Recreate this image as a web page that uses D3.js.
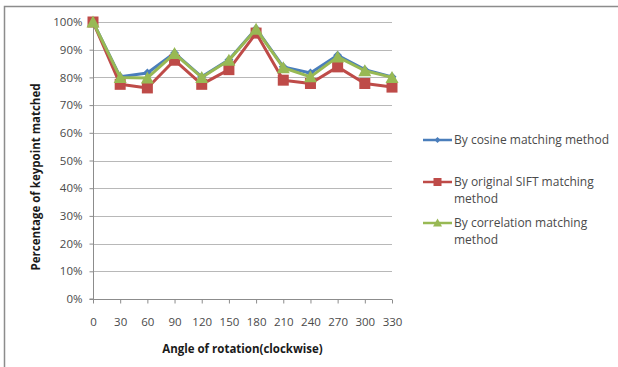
<!DOCTYPE html>
<html><head><meta charset="utf-8">
<script src="https://cdn.jsdelivr.net/npm/d3@7"></script>
<style>body{margin:0;background:#fff}svg{display:block}</style>
</head><body>
<svg id="c" width="618" height="367"></svg>
<script>
const angles = [0,30,60,90,120,150,180,210,240,270,300,330];
const cosineVals = [100,80.2,81.6,88.8,80.2,86.4,97.6,83.8,81.6,88.0,82.8,80.2];
const siftVals = [100,77.5,76.2,86.2,77.5,82.8,96.0,79.0,77.8,83.8,77.8,76.5];
const corrVals = [100,80.0,79.8,88.6,80.0,86.2,97.4,83.5,80.2,87.4,82.4,80.0];
const yTicks = [0,10,20,30,40,50,60,70,80,90,100];
const seriesNames = ["By cosine matching method","By original SIFT matching method","By correlation matching method"];
const seriesColors = ["#4A7EBB","#BE4B48","#98B954"];
const xTitle = "Angle of rotation(clockwise)";
const yTitle = "Percentage of keypoint matched";

const svg = d3.select("#c");
const font = "'Open Sans', sans-serif";
// chart border (top & left visible)
svg.append("path").attr("d","M4.5,367 V6.5 H618").attr("fill","none").attr("stroke","#8c8c8c").attr("stroke-width",1.5);

const L=93, R=392, T=22, B=299;
const x = d3.scalePoint().domain(angles).range([L,R]);
const y = d3.scaleLinear().domain([0,100]).range([B,T]);

// gridlines
svg.append("g").selectAll("line").data(yTicks.filter(d=>d>0)).join("line")
  .attr("x1",L).attr("x2",R).attr("y1",d=>Math.round(y(d))+0.5).attr("y2",d=>Math.round(y(d))+0.5)
  .attr("stroke","#b8b8b8").attr("stroke-width",1);

// y axis
const ya = svg.append("g").attr("transform",`translate(${L+0.5},0)`)
  .call(d3.axisLeft(y).tickValues(yTicks).tickFormat(d=>d+"%").tickSize(4).tickPadding(7));
ya.select(".domain").attr("stroke","#8c8c8c").attr("d",`M-4,${B}H0V${T}`);
ya.selectAll(".tick line").attr("stroke","#8c8c8c");
ya.selectAll(".tick text").attr("font-family",font).attr("font-size",11.5).attr("fill","#4a4a4a");

// x axis
const xa = svg.append("g").attr("transform",`translate(0,${B+0.5})`)
  .call(d3.axisBottom(x).tickSize(4).tickPadding(14));
xa.select(".domain").attr("stroke","#8c8c8c").attr("d",`M${L},0H${R}`);
xa.selectAll(".tick line").attr("stroke","#8c8c8c");
xa.selectAll(".tick text").attr("font-family",font).attr("font-size",11.5).attr("fill","#4a4a4a");

// titles
svg.append("text").attr("x",(L+R)/2).attr("y",353).attr("text-anchor","middle")
  .attr("font-family",font).attr("font-size",11.5).attr("font-weight","bold").attr("fill","#1a1a1a").text(xTitle);
svg.append("text").attr("transform","translate(40,177) rotate(-90)").attr("text-anchor","middle")
  .attr("font-family",font).attr("font-size",11.5).attr("font-weight","bold").attr("fill","#1a1a1a").text(yTitle);

const data = [cosineVals, siftVals, corrVals];
const line = d3.line().x((d,i)=>x(angles[i])).y(d=>y(d));
const markers = [
  g=>g.append("path").attr("d","M0,-4.5L4.5,0L0,4.5L-4.5,0Z"),
  g=>g.append("rect").attr("x",-5.5).attr("y",-5.5).attr("width",11).attr("height",11),
  g=>g.append("path").attr("d","M0,-6.5L6.5,5.5L-6.5,5.5Z")
];
data.forEach((vals,si)=>{
  svg.append("path").datum(vals).attr("d",line).attr("fill","none")
    .attr("stroke",seriesColors[si]).attr("stroke-width",3).attr("stroke-linejoin","round");
  vals.forEach((v,i)=>{
    const g = svg.append("g").attr("transform",`translate(${x(angles[i])},${y(v)})`).attr("fill",seriesColors[si]);
    markers[si](g);
  });
});

// legend
const legY = [140,182,223];
const legLines = [["By cosine matching method"],["By original SIFT matching","method"],["By correlation matching","method"]];
legY.forEach((ly,si)=>{
  svg.append("line").attr("x1",423).attr("x2",452).attr("y1",ly).attr("y2",ly)
    .attr("stroke",seriesColors[si]).attr("stroke-width",2.5);
  const g = svg.append("g").attr("transform",`translate(437.5,${ly})`).attr("fill",seriesColors[si]);
  [g=>g.append("path").attr("d","M0,-3L3,0L0,3L-3,0Z"),
   g=>g.append("rect").attr("x",-4).attr("y",-4).attr("width",8).attr("height",8),
   g=>g.append("path").attr("d","M0,-4.5L4.5,3.5L-4.5,3.5Z")][si](g);
  const t = svg.append("text").attr("x",454).attr("y",ly+4).attr("font-family",font).attr("font-size",12).attr("fill","#4a4a4a");
  legLines[si].forEach((s,k)=>t.append("tspan").attr("x",454).attr("dy",k?17:0).text(s));
});
</script>
</body></html>
